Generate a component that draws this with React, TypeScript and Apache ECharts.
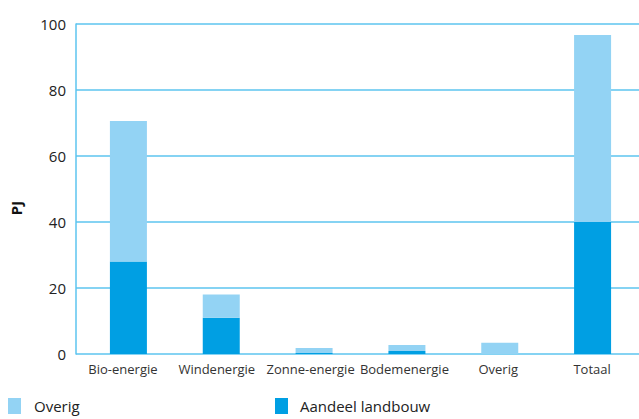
import React, { useEffect, useRef } from "react";
import * as echarts from "echarts";

const categories = ["Bio-energie", "Windenergie", "Zonne-energie", "Bodemenergie", "Overig", "Totaal"];
const landbouw = [28, 11, 0.3, 0.9, 0, 40];
const overig = [42.6, 7, 1.5, 1.8, 3.4, 56.7];
const yTicks = [0, 20, 40, 60, 80, 100];

const DARK = "#009fe3";
const LIGHT = "#93d3f4";
const GRID = "#5cc4ef";
const FONT = "Open Sans";

export default function App() {
  const ref = useRef<HTMLDivElement>(null);
  useEffect(() => {
    document.body.style.margin = "0";
    const chart = echarts.init(ref.current!, null, { renderer: "svg" });
    chart.setOption({
      animation: false,
      textStyle: { fontFamily: FONT },
      grid: [
        { left: 76, top: 24, width: 563, height: 330 },
        { left: 82, top: 24, width: 563, height: 330 },
      ],
      xAxis: [
        {
          type: "category",
          gridIndex: 0,
          data: categories,
          axisLine: { show: false },
          axisTick: { show: false },
          axisLabel: { color: "#333", fontSize: 13, margin: 8, fontFamily: FONT, interval: 0 },
        },
        {
          type: "category",
          gridIndex: 1,
          data: categories,
          axisLine: { show: false },
          axisTick: { show: false },
          axisLabel: { show: false },
        },
      ],
      yAxis: [
        {
          type: "value",
          gridIndex: 0,
          min: yTicks[0],
          max: yTicks[yTicks.length - 1],
          interval: 20,
          axisLine: { show: true, lineStyle: { color: GRID, width: 1.5 } },
          axisTick: { show: false },
          splitLine: { show: true, lineStyle: { color: GRID, width: 1.5 } },
          axisLabel: { color: "#222", fontSize: 15, margin: 10, fontFamily: FONT },
        },
        {
          type: "value",
          gridIndex: 1,
          min: 0,
          max: 100,
          interval: 20,
          show: false,
          splitLine: { show: false },
        },
      ],
      legend: [
        {
          data: ["Overig"],
          left: 8,
          top: 397,
          padding: 0,
          itemWidth: 13,
          itemHeight: 16,
          icon: "rect",
          textStyle: { fontSize: 15, lineHeight: 18, color: "#222", fontFamily: FONT, padding: [0, 0, 0, 8] },
        },
        {
          data: ["Aandeel landbouw"],
          left: 275,
          top: 397,
          padding: 0,
          itemWidth: 13,
          itemHeight: 16,
          icon: "rect",
          textStyle: { fontSize: 15, lineHeight: 18, color: "#222", fontFamily: FONT, padding: [0, 0, 0, 7] },
        },
      ],
      graphic: [
        {
          type: "text",
          x: 16,
          y: 208,
          rotation: Math.PI / 2,
          style: {
            text: "PJ",
            fontSize: 15,
            fontWeight: "bold",
            fill: "#111",
            fontFamily: FONT,
            align: "center",
            verticalAlign: "middle",
          },
        },
      ],
      series: [
        {
          name: "Aandeel landbouw",
          type: "bar",
          stack: "a",
          xAxisIndex: 1,
          yAxisIndex: 1,
          barWidth: 37,
          itemStyle: { color: DARK },
          data: landbouw,
        },
        {
          name: "Overig",
          type: "bar",
          stack: "a",
          xAxisIndex: 1,
          yAxisIndex: 1,
          barWidth: 37,
          itemStyle: { color: LIGHT },
          data: overig,
        },
      ],
    });
    return () => chart.dispose();
  }, []);
  return <div ref={ref} style={{ width: 639, height: 419 }} />;
}
